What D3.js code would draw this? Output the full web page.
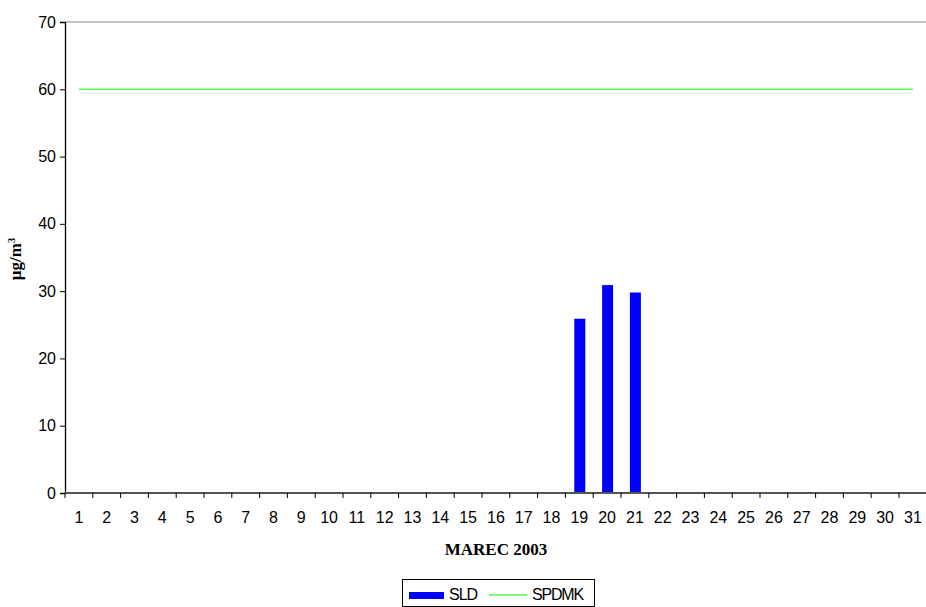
<!DOCTYPE html>
<html>
<head>
<meta charset="utf-8">
<script src="https://cdn.jsdelivr.net/npm/d3@7"></script>
<style>
  html, body { margin: 0; padding: 0; background: #fff; }
  svg { display: block; }
</style>
</head>
<body>
<svg id="chart" width="926" height="607"></svg>
<script>
// Daily values for March 2003 (µg/m³); null where no measurement exists
const days = d3.range(1, 32).map(String);
const sld = [null, null, null, null, null, null, null, null, null, null,
             null, null, null, null, null, null, null, null, 25.9, 30.9,
             29.8, null, null, null, null, null, null, null, null, null, null];
const limitValue = 60;           // SPDMK limit line
const yTicks = [0, 10, 20, 30, 40, 50, 60, 70];

const svg = d3.select("#chart");
const m = { left: 65, top: 22, right: 926, bottom: 493 };
const sans = "Liberation Sans, Arial, sans-serif";
const serif = "Liberation Serif, Times New Roman, serif";

const x = d3.scaleBand().domain(days).range([m.left, m.left + 31 * 27.8]).padding(0);
const y = d3.scaleLinear().domain([0, 70]).range([m.bottom, m.top]);

// top frame line of the plot area
svg.append("line")
  .attr("x1", m.left).attr("x2", 926)
  .attr("y1", y(70)).attr("y2", y(70))
  .attr("stroke", "#888").attr("stroke-width", 1.2);

// bars
const barW = 11;
svg.append("g").selectAll("rect")
  .data(days.map((d, i) => ({ d, v: sld[i] })).filter(o => o.v != null))
  .join("rect")
  .attr("x", o => x(o.d) + x.bandwidth() / 2 - barW / 2 + 0.5)
  .attr("width", barW)
  .attr("y", o => y(o.v))
  .attr("height", o => y(0) - y(o.v))
  .attr("fill", "#0000ff");

// limit line across category centres
const line = d3.line().x(d => x(d) + x.bandwidth() / 2).y(() => y(limitValue));
svg.append("path")
  .datum(days)
  .attr("d", line)
  .attr("fill", "none")
  .attr("stroke", "#55ff55")
  .attr("stroke-width", 1.6);

// y axis
const yAxis = d3.axisLeft(y).tickValues(yTicks).tickSize(5).tickPadding(4);
const gy = svg.append("g").attr("transform", `translate(${m.left},0)`).call(yAxis);
gy.select(".domain").attr("stroke", "#000").attr("stroke-width", 1.3);
gy.selectAll(".tick line").attr("stroke", "#000");
gy.selectAll("text").attr("font-family", sans)
  .attr("font-size", 16).attr("fill", "#000");

// x axis: ticks on band boundaries, labels centred on bands
const gx = svg.append("g").attr("transform", `translate(0,${m.bottom})`);
gx.append("line")
  .attr("x1", m.left).attr("x2", 926)
  .attr("stroke", "#555").attr("stroke-width", 2);
const bounds = days.map(d => x(d)).concat([x(days[days.length - 1]) + x.bandwidth()]);
gx.selectAll("line.tk").data(bounds).join("line")
  .attr("class", "tk")
  .attr("x1", d => d).attr("x2", d => d)
  .attr("y1", 0).attr("y2", 5)
  .attr("stroke", "#000");
gx.selectAll("text").data(days).join("text")
  .attr("x", d => x(d) + x.bandwidth() / 2)
  .attr("y", 30)
  .attr("text-anchor", "middle")
  .attr("font-family", sans)
  .attr("font-size", 16)
  .attr("fill", "#000")
  .text(d => d);

// axis titles
svg.append("text")
  .attr("x", 496).attr("y", 555)
  .attr("text-anchor", "middle")
  .attr("font-family", serif)
  .attr("font-weight", "bold")
  .attr("font-size", 17)
  .text("MAREC 2003");

const yt = svg.append("text")
  .attr("transform", "translate(21,259) rotate(-90)")
  .attr("text-anchor", "middle")
  .attr("font-family", serif)
  .attr("font-weight", "bold")
  .attr("font-size", 17);
yt.append("tspan").text("µg/m");
yt.append("tspan").attr("baseline-shift", "super").attr("font-size", 11).text("3");

// legend
const lg = svg.append("g");
lg.append("rect")
  .attr("x", 402.5).attr("y", 579.5).attr("width", 192).attr("height", 27)
  .attr("fill", "#fff").attr("stroke", "#000").attr("stroke-width", 1);
lg.append("rect")
  .attr("x", 409).attr("y", 592).attr("width", 35).attr("height", 7)
  .attr("fill", "#0000ff");
lg.append("text")
  .attr("x", 449).attr("y", 600)
  .attr("font-family", sans)
  .attr("font-size", 16).attr("letter-spacing", -1)
  .text("SLD");
lg.append("path")
  .attr("d", "M489,595H527")
  .attr("fill", "none")
  .attr("stroke", "#55ff55").attr("stroke-width", 1.6);
lg.append("text")
  .attr("x", 532).attr("y", 600)
  .attr("font-family", sans)
  .attr("font-size", 16).attr("letter-spacing", -1.2)
  .text("SPDMK");
</script>
</body>
</html>
